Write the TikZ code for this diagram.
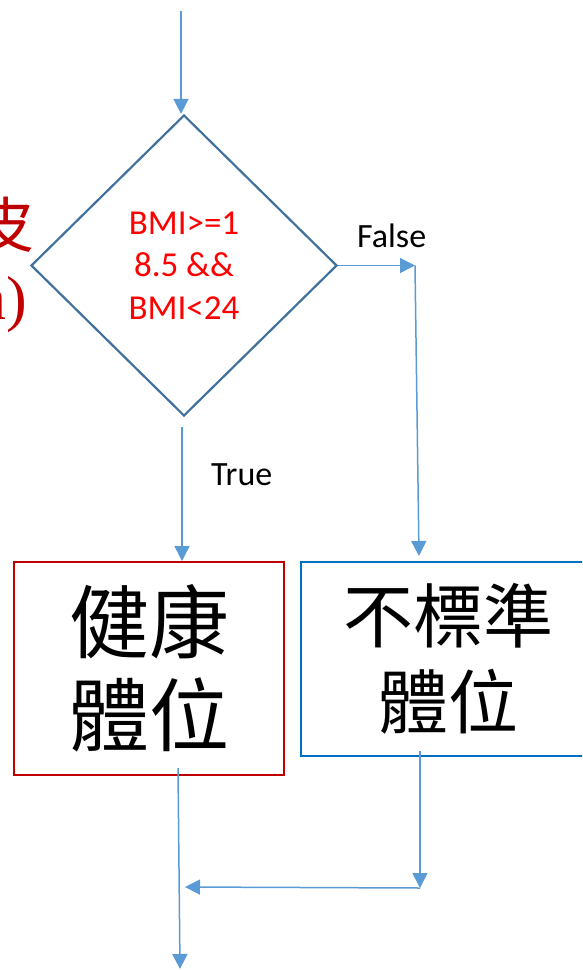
\documentclass[tikz,border=0pt]{standalone}
\usepackage{fontspec}
\setmainfont{Carlito}
\newfontfamily\cjk{Noto Sans CJK TC}
\newfontfamily\serifx{Liberation Serif}
\usetikzlibrary{arrows.meta,shapes.geometric}
\definecolor{arrowblue}{RGB}{91,155,213}
\definecolor{diaborder}{RGB}{65,113,156}
\definecolor{darkred}{RGB}{192,0,0}
\definecolor{boxblue}{RGB}{0,112,192}
\definecolor{txtred}{RGB}{255,0,0}
\begin{document}
\begin{tikzpicture}[x=1pt,y=-1pt,
  flow/.style={draw=arrowblue,line width=1.5pt,-{Triangle[length=15pt,width=15pt]}},
  lbl/.style={font=\fontsize{34}{40}\selectfont,text=black,inner sep=0pt},
  decision/.style={diamond,draw=diaborder,line width=2.2pt,minimum width=306pt,minimum height=301pt,inner sep=0pt,align=center,text=txtred,font=\fontsize{35}{42.5}\selectfont},
  redbox/.style={draw=darkred,line width=2pt,minimum width=270pt,minimum height=213pt,inner sep=0pt,align=center,font=\cjk\fontsize{80}{93}\selectfont},
  bluebox/.style={draw=boxblue,line width=2.2pt,minimum width=295pt,minimum height=194pt,inner sep=0pt,align=center,font=\cjk\fontsize{70}{86}\selectfont},
  cut/.style={text=darkred,inner sep=0pt}
]
\useasboundingbox (0,0) rectangle (582,970);
\clip (0,0) rectangle (582,970);

% cut-off text at the left edge
\node[cut,anchor=east,font=\cjk\fontsize{60}{60}\selectfont] (lefttxt) at (35,225) {皮};
\node[cut,anchor=east,font=\serifx\fontsize{62}{62}\selectfont] (lefttxt2) at (27,305) {n)};

% decision
\node[decision] (dec) at (184,265.5) {BMI>=1\\8.5 \&\&\\BMI<24};

% result boxes
\node[redbox] (good) at (149,668.5) {健康\\體位};
\node[bluebox] (bad) at (448.5,659) {不標準\\體位};

% coordinates for free ends and bends
\coordinate (start) at (181,11);
\coordinate (tstart) at (182,427);
\coordinate (fc) at (415,265.5);
\coordinate (fend) at (419,556);
\coordinate (gstart) at (178,768);
\coordinate (gend) at (180,969);
\coordinate (bstart) at (420,751);
\coordinate (bjoin) at (420,888);
\coordinate (mjoin) at (185,887);

% connectors
\draw[flow] (start) -- (start |- dec.north);
\draw[flow] (dec.east) -- (fc);
\draw[flow] (fc) -- (fend);
\draw[flow] (tstart) -- (tstart |- good.north);
\draw[flow] (gstart) -- (gend);
\draw[flow] (bstart) -- (bjoin);
\draw[flow] (bjoin) -- (mjoin);

% labels
\node[lbl,anchor=base west] (flbl) at (357,247) {False};
\node[lbl,anchor=base west] (tlbl) at (211,485) {True};
\end{tikzpicture}
\end{document}
